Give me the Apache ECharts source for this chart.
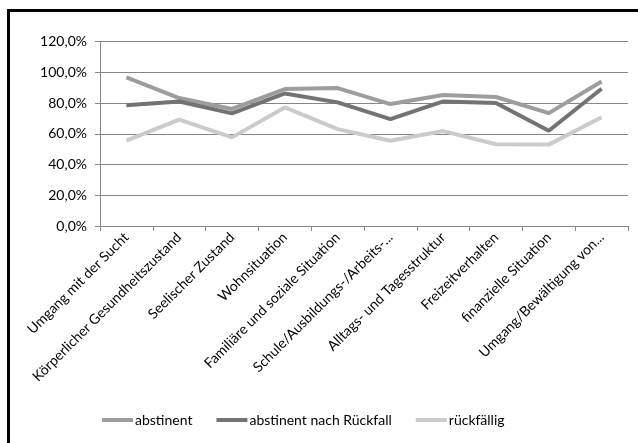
<!DOCTYPE html>
<html>
<head>
<meta charset="utf-8">
<script src="https://cdn.jsdelivr.net/npm/echarts@6/dist/echarts.min.js"></script>
<style>
html,body{margin:0;padding:0;background:#fff;overflow:hidden;}
#chart{width:638px;height:443px;}
</style>
</head>
<body>
<div id="chart"></div>
<script>
var categories = [
  "Umgang mit der Sucht",
  "Körperlicher Gesundheitszustand",
  "Seelischer Zustand",
  "Wohnsituation",
  "Familiäre und soziale Situation",
  "Schule/Ausbildungs-/Arbeits-...",
  "Alltags- und Tagesstruktur",
  "Freizeitverhalten",
  "finanzielle Situation",
  "Umgang/Bewältigung von..."
];
var seriesNames = ["abstinent", "abstinent nach Rückfall", "rückfällig"];
var abstinent = [96.7, 83.3, 76.2, 89.2, 89.8, 79.4, 85.3, 84.0, 73.5, 94.1];
var abstinentNachRueckfall = [78.6, 81.1, 73.3, 86.3, 80.5, 69.6, 81.1, 80.1, 62.0, 89.4];
var rueckfaellig = [55.6, 69.2, 57.7, 77.2, 63.1, 55.5, 61.8, 53.2, 53.0, 70.8];
var yTicks = [0, 20, 40, 60, 80, 100, 120];

var colors = ["#9d9d9d", "#737373", "#cbcbcb"];
var values = [abstinent, abstinentNachRueckfall, rueckfaellig];

var chart = echarts.init(document.getElementById('chart'), null, {renderer: 'canvas'});
var font = "Lato, 'Open Sans', sans-serif";
chart.setOption({
  animation: false,
  backgroundColor: '#fff',
  graphic: [{
    type: 'polyline',
    shape: {points: [[8.5, 460], [8.5, 10.5], [660, 10.5]]},
    style: {fill: null, stroke: '#000', lineWidth: 3},
    silent: true
  }],
  grid: {left: 100, right: 10, top: 41.7, bottom: 217, containLabel: false},
  legend: {
    left: 97,
    top: 408,
    itemGap: 24,
    itemWidth: 31,
    itemHeight: 4,
    icon: 'rect',
    data: seriesNames,
    textStyle: {fontFamily: font, fontSize: 14, color: '#000', padding: [0, 0, 0, -3]}
  },
  xAxis: {
    type: 'category',
    data: categories,
    boundaryGap: true,
    axisLine: {show: true, lineStyle: {color: '#868686', width: 1}},
    axisTick: {show: true, length: 5, alignWithLabel: false, lineStyle: {color: '#868686'}},
    axisLabel: {interval: 0, rotate: 45, margin: 9, fontFamily: font, fontSize: 14, color: '#000'},
    splitLine: {show: false}
  },
  yAxis: {
    type: 'value',
    min: 0,
    max: 120,
    interval: 20,
    axisLine: {show: true, lineStyle: {color: '#868686', width: 1}},
    axisTick: {show: true, length: 5, lineStyle: {color: '#868686'}},
    axisLabel: {
      margin: 13,
      fontFamily: font,
      fontSize: 14,
      color: '#000',
      formatter: function (v) { return v.toFixed(1).replace('.', ',') + '%'; }
    },
    splitLine: {show: true, lineStyle: {color: '#868686', width: 1}}
  },
  series: seriesNames.map(function (name, i) {
    return {
      name: name,
      type: 'line',
      data: values[i],
      symbol: 'none',
      color: colors[i],
      lineStyle: {width: 4, color: colors[i]},
      itemStyle: {color: colors[i]}
    };
  })
});
</script>
</body>
</html>
